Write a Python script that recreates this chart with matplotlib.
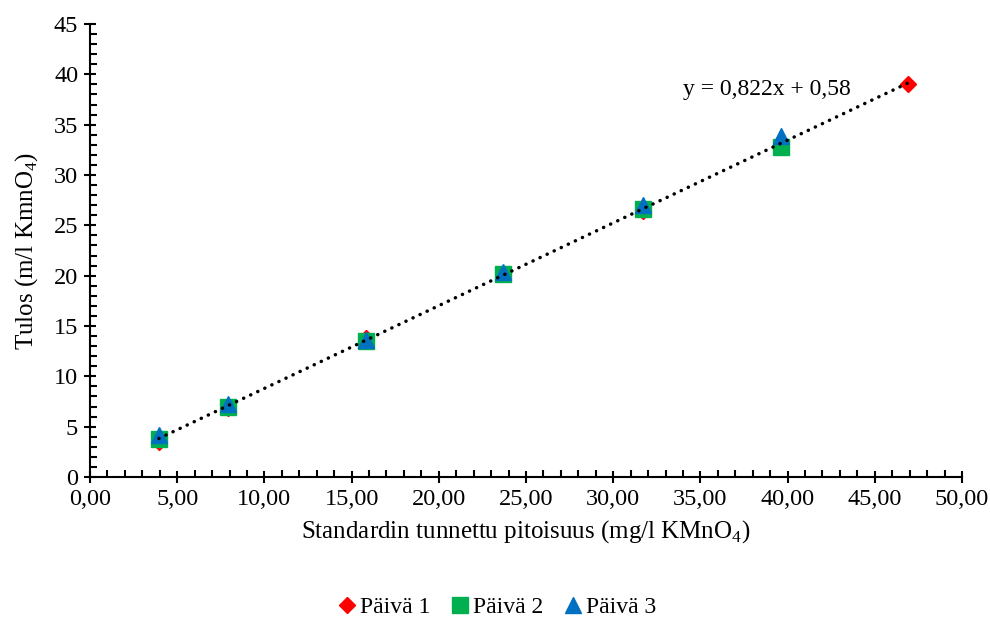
import numpy as np
import matplotlib.pyplot as plt
from matplotlib.ticker import MultipleLocator, FuncFormatter

plt.rcParams['font.family'] = ['Liberation Serif', 'DejaVu Serif']
plt.rcParams['mathtext.fontset'] = 'custom'
plt.rcParams['mathtext.rm'] = 'Liberation Serif'

# Data
x_p1 = [3.95, 7.9, 15.8, 23.7, 31.7, 46.9]
y_p1 = [3.5, 6.9, 13.8, 20.2, 26.4, 39.0]
x_p2 = [3.95, 7.9, 15.8, 23.7, 31.7, 39.6]
y_p2 = [3.8, 7.0, 13.5, 20.2, 26.6, 32.8]
x_p3 = [3.95, 7.9, 15.8, 23.7, 31.7, 39.6]
y_p3 = [4.2, 7.3, 13.6, 20.4, 27.0, 33.9]
slope = 0.822
intercept = 0.58

fig = plt.figure(figsize=(9.9, 6.21), dpi=100)
ax = fig.add_axes([0.0909, 0.2319, 0.8808, 0.7295])

ax.plot(x_p1, y_p1, linestyle='none', marker='D', color='#FF0000', markersize=8, label='Päivä 1')
ax.plot(x_p2, y_p2, linestyle='none', marker='s', color='#00B050', markersize=11, label='Päivä 2')
ax.plot(x_p3, y_p3, linestyle='none', marker='^', color='#0070C0', markersize=11, label='Päivä 3')

# Trendline
xt = np.array([min(x_p1), max(x_p1)])
ax.plot(xt, slope * xt + intercept, color='black', lw=2.5,
        linestyle=(0, (0.05, 2.2)), dash_capstyle='round', zorder=5)
ax.text(38.8, 38.5, 'y = 0,822x + 0,58', fontsize=17, ha='center', va='center')

# Axes
ax.set_xlim(0, 50)
ax.set_ylim(0, 45)
ax.xaxis.set_major_locator(MultipleLocator(5))
ax.xaxis.set_minor_locator(MultipleLocator(1))
ax.yaxis.set_major_locator(MultipleLocator(5))
ax.yaxis.set_minor_locator(MultipleLocator(1))
ax.xaxis.set_major_formatter(FuncFormatter(lambda v, p: f'{v:.2f}'.replace('.', ',')))
ax.tick_params(which='major', direction='inout', length=9, width=1.5, labelsize=17.5, pad=4)
ax.tick_params(which='minor', direction='in', length=5, width=1.5)
for s in ['top', 'right']:
    ax.spines[s].set_visible(False)
for s in ['left', 'bottom']:
    ax.spines[s].set_linewidth(1.5)

ax.set_xlabel(r'Standardin tunnettu pitoisuus (mg/l KMnO$_\mathregular{4}$)', fontsize=18, labelpad=6)
ax.set_ylabel(r'Tulos (m/l KmnO$_\mathregular{4}$)', fontsize=18, labelpad=10)

fig.legend(loc='lower center', bbox_to_anchor=(0.5, -0.03), ncol=3, frameon=False,
           fontsize=17, handletextpad=0.0, columnspacing=0.7, handlelength=1.1)

fig.savefig('out.png', dpi=100)
